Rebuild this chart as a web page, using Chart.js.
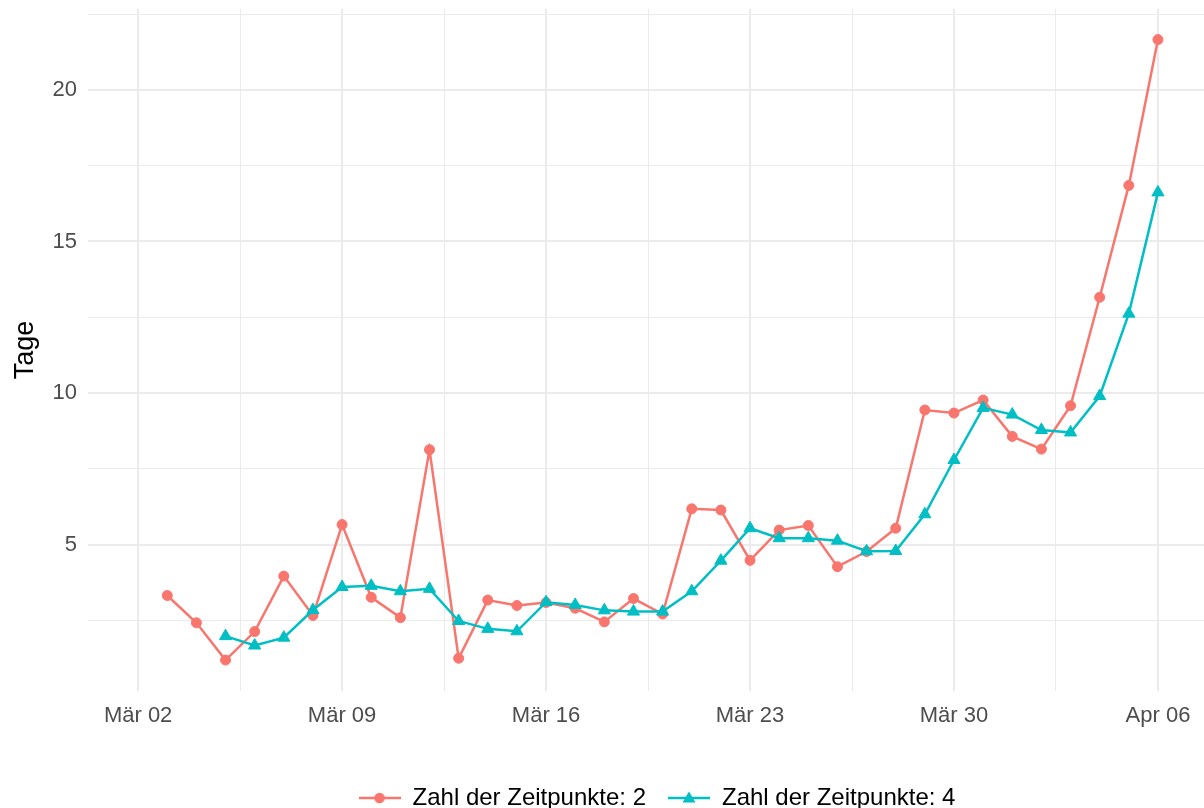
<!DOCTYPE html>
<html>
<head>
<meta charset="utf-8">
<script src="https://cdn.jsdelivr.net/npm/chart.js@4.4.1/dist/chart.umd.min.js"></script>
<style>
  html, body { margin: 0; padding: 0; background: #ffffff; }
  #chart { display: block; }
</style>
</head>
<body>
<canvas id="chart" width="1204" height="808"></canvas>
<script>
// data
const startDate = '2020-03-02'
const dates = [
  '2020-03-03', '2020-03-04', '2020-03-05', '2020-03-06', '2020-03-07', '2020-03-08', '2020-03-09',
  '2020-03-10', '2020-03-11', '2020-03-12', '2020-03-13', '2020-03-14', '2020-03-15', '2020-03-16',
  '2020-03-17', '2020-03-18', '2020-03-19', '2020-03-20', '2020-03-21', '2020-03-22', '2020-03-23',
  '2020-03-24', '2020-03-25', '2020-03-26', '2020-03-27', '2020-03-28', '2020-03-29', '2020-03-30',
  '2020-03-31', '2020-04-01', '2020-04-02', '2020-04-03', '2020-04-04', '2020-04-05', '2020-04-06'
]
const zeitpunkte2 = [
  3.32, 2.42, 1.19, 2.13, 3.96, 2.66, 5.66,
  3.26, 2.59, 8.13, 1.25, 3.17, 2.99, 3.09,
  2.90, 2.45, 3.22, 2.71, 6.18, 6.14, 4.48,
  5.48, 5.63, 4.27, 4.77, 5.54, 9.44, 9.34,
  9.77, 8.57, 8.15, 9.58, 13.16, 16.85, 21.66
]
const zeitpunkte4 = [
  null, null, 1.98, 1.67, 1.93, 2.84, 3.60,
  3.64, 3.46, 3.54, 2.48, 2.22, 2.14, 3.10,
  3.01, 2.83, 2.79, 2.79, 3.46, 4.47, 5.54,
  5.21, 5.21, 5.13, 4.78, 4.79, 6.00, 7.79,
  9.51, 9.29, 8.78, 8.70, 9.90, 12.62, 16.62
]
const seriesNames = ['Zahl der Zeitpunkte: 2', 'Zahl der Zeitpunkte: 4']
const xTickLabels = ['Mär 02', 'Mär 09', 'Mär 16', 'Mär 23', 'Mär 30', 'Apr 06']
const yTicks = [2.5, 5, 7.5, 10, 12.5, 15, 17.5, 20, 22.5]

const red = '#F8766D'
const teal = '#00BFC4'
const gridColor = '#EBEBEB'

function dayIndex(d) {
  return Math.round((Date.parse(d) - Date.parse(startDate)) / 864e5)
}
function toPoints(values) {
  return dates.map((d, i) => ({x: dayIndex(d), y: values[i]}))
}

// legend icon: line segment with the marker in the middle
function legendIcon(color, shape) {
  const c = document.createElement('canvas')
  c.width = 42
  c.height = 16
  const g = c.getContext('2d')
  g.strokeStyle = color
  g.lineWidth = 2.5
  g.beginPath()
  g.moveTo(0, 8)
  g.lineTo(42, 8)
  g.stroke()
  g.fillStyle = color
  g.beginPath()
  if (shape === 'circle') {
    g.arc(21, 8, 5.3, 0, Math.PI * 2)
  } else {
    g.moveTo(21, 1.5)
    g.lineTo(27.5, 12.5)
    g.lineTo(14.5, 12.5)
    g.closePath()
  }
  g.fill()
  return c
}
const icons = [legendIcon(red, 'circle'), legendIcon(teal, 'triangle')]

// push the legend down / right to where ggplot puts it
const legendNudge = {
  id: 'legendNudge',
  afterLayout(chart) {
    const lg = chart.legend
    lg.top += 12
    lg.bottom += 12
    lg.left += 55
    lg.right += 55
  }
}

const xMajor = 7
const ctx = document.getElementById('chart')
const myChart = new Chart(ctx, {
  type: 'line',
  plugins: [legendNudge],
  data: {
    datasets: [
      {
        label: seriesNames[0],
        data: toPoints(zeitpunkte2),
        borderColor: red,
        backgroundColor: red,
        borderWidth: 2.5,
        pointStyle: 'circle',
        pointRadius: 5,
        pointBorderWidth: 1,
        pointBackgroundColor: red,
        pointBorderColor: red,
        tension: 0,
        clip: false,
        order: 2
      },
      {
        label: seriesNames[1],
        data: toPoints(zeitpunkte4),
        borderColor: teal,
        backgroundColor: teal,
        borderWidth: 2.5,
        pointStyle: 'triangle',
        pointRadius: 7,
        pointBorderWidth: 1,
        pointBackgroundColor: teal,
        pointBorderColor: teal,
        tension: 0,
        clip: false,
        order: 1
      }
    ]
  },
  options: {
    responsive: false,
    devicePixelRatio: 1,
    animation: false,
    layout: {
      autoPadding: false,
      padding: {top: 9, right: 0, bottom: 0, left: 0}
    },
    plugins: {
      tooltip: {enabled: false},
      legend: {
        position: 'bottom',
        labels: {
          usePointStyle: true,
          pointStyleWidth: 42,
          padding: 22,
          color: '#000000',
          font: {family: 'Liberation Sans', size: 24},
          generateLabels: (chart) => seriesNames.map((name, i) => ({
            text: name,
            pointStyle: icons[i],
            fillStyle: i === 0 ? red : teal,
            strokeStyle: i === 0 ? red : teal,
            lineWidth: 0,
            datasetIndex: i,
            fontColor: '#000000'
          }))
        }
      }
    },
    scales: {
      x: {
        type: 'linear',
        min: -1.72,
        max: 36.58,
        border: {display: false},
        grid: {
          color: gridColor,
          lineWidth: (c) => (c.tick && c.tick.value % xMajor === 0 ? 2 : 1),
          drawTicks: false
        },
        afterBuildTicks: (axis) => {
          const t = []
          for (let i = 0; i < xTickLabels.length; i++) {
            t.push({value: i * xMajor})
            if (i < xTickLabels.length - 1) t.push({value: i * xMajor + xMajor / 2})
          }
          axis.ticks = t
        },
        afterFit: (axis) => {
          axis.height = 61
          axis.paddingLeft = 0
          axis.paddingRight = 0
        },
        ticks: {
          autoSkip: false,
          maxRotation: 0,
          padding: 12,
          color: '#4D4D4D',
          font: {family: 'Liberation Sans', size: 22},
          callback: (v) => (v % xMajor === 0 ? xTickLabels[v / xMajor] : '')
        }
      },
      y: {
        type: 'linear',
        min: 0.17,
        max: 22.67,
        border: {display: false},
        grid: {
          color: gridColor,
          lineWidth: (c) => (c.tick && c.tick.value % 5 === 0 ? 2 : 1),
          drawTicks: false
        },
        afterBuildTicks: (axis) => {
          axis.ticks = yTicks.map(v => ({value: v}))
        },
        afterFit: (axis) => {
          axis.width = 88
          axis.paddingTop = 0
          axis.paddingBottom = 0
        },
        title: {
          display: true,
          text: 'Tage',
          color: '#000000',
          font: {family: 'Liberation Sans', size: 27},
          padding: {top: 9, bottom: 0}
        },
        ticks: {
          autoSkip: false,
          padding: 11,
          color: '#4D4D4D',
          font: {family: 'Liberation Sans', size: 22},
          callback: (v) => (v % 5 === 0 ? String(v) : '')
        }
      }
    }
  }
})
</script>
</body>
</html>
